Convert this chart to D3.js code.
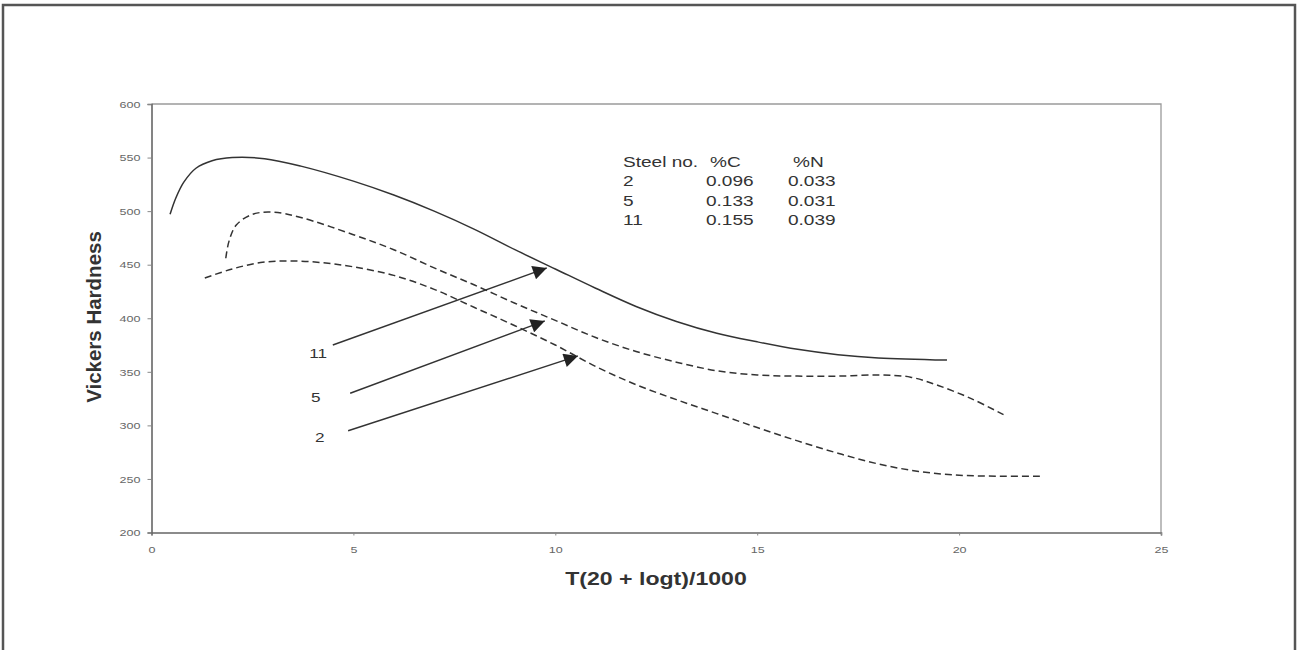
<!DOCTYPE html>
<html><head><meta charset="utf-8">
<script src="https://cdn.jsdelivr.net/npm/d3@7"></script>
<style>body{margin:0;background:#fff}svg{display:block}text{font-family:Arial,"Liberation Sans",sans-serif}</style>
</head><body><svg id="c" width="1302" height="650"></svg>
<script>
// ---- data ----
const xTicks = [0, 5, 10, 15, 20, 25];
const yTicks = [200, 250, 300, 350, 400, 450, 500, 550, 600];
const steel11X = [0.46,0.6,0.8,1.1,1.5,2.0,2.8,3.7,5.0,6.0,7.0,8.0,9.0,10.0,11.0,12.0,13.0,14.0,15.0,16.0,17.0,18.0,19.7];
const steel11Y = [497,512,527,540,547,550,549,542,528,515,500,483,464,446,428,411,397,386,378,371,366,363,361];
const steel5X = [1.84,1.92,2.1,2.5,3.0,3.7,5.0,6.0,7.0,8.0,9.0,10.0,11.0,12.0,13.0,14.0,15.0,16.0,17.0,18.0,18.8,19.5,20.3,21.1];
const steel5Y = [456,472,487,497,499,494,478,464,447,431,414,398,382,369,359,351,347,346,346,347,345,337,325,310];
const steel2X = [1.32,2.0,2.7,3.4,4.2,5.0,6.0,7.0,8.0,9.0,10.0,11.0,12.0,13.0,14.0,15.0,16.0,17.0,18.0,19.0,20.0,21.0,22.0];
const steel2Y = [437.6,446,452,453.5,452,448,440,427,410,393,375,355,338,324,311,298,285.5,274,264,257,253.5,252.5,252.5];
const arrowLabels = ["11", "5", "2"];
const arrowFrom = [[4.49,375],[4.92,330],[4.87,295]];
const arrowTo = [[9.79,447],[9.74,397.5],[10.56,364.8]];
const labelPos = [[4.13,367],[4.07,326.5],[4.17,289]];
const tableHeader = ["Steel no.", "%C", "%N"];
const tableSteel = ["2", "5", "11"];
const tableC = ["0.096", "0.133", "0.155"];
const tableN = ["0.033", "0.031", "0.039"];
const xTitle = "T(20 + logt)/1000";
const yTitle = "Vickers Hardness";

// ---- layout ----
const svg = d3.select("#c");
const L = 151.5, R = 1161, T = 104, B = 532.5;
const x = d3.scaleLinear().domain([0, 25]).range([L, R]);
const y = d3.scaleLinear().domain([200, 600]).range([B, T]);
const SX = 1.32; // horizontal stretch of the scanned text

svg.append("rect").attr("x",3).attr("y",5).attr("width",1292).attr("height",650)
  .attr("fill","#fff").attr("stroke","#555").attr("stroke-width",2.5);

// plot frame
svg.append("path").attr("d",`M${L},${T}H${R}V${B}`).attr("fill","none").attr("stroke","#9a9a9a").attr("stroke-width",1.3);

const gx = svg.append("g").attr("transform",`translate(0,${B})`)
  .call(d3.axisBottom(x).tickValues(xTicks).tickSize(3).tickFormat(d3.format("d")));
const gy = svg.append("g").attr("transform",`translate(${L},0)`)
  .call(d3.axisLeft(y).tickValues(yTicks).tickSize(4).tickFormat(d3.format("d")));
[gx, gy].forEach(g => {
  g.select(".domain").attr("stroke","#666").attr("stroke-width",1.6);
  g.selectAll(".tick line").attr("stroke","#888");
  g.selectAll("text").attr("fill","#666").attr("font-size",9.5).attr("font-family","Arial, Liberation Sans, sans-serif");
});
gx.selectAll(".tick text").attr("y",0).attr("dy","0.35em").attr("transform",`translate(0,17) scale(${SX},1)`);
gy.selectAll(".tick text").attr("text-anchor","end").attr("x",0).attr("dy","0.34em").attr("transform",`translate(-11,0) scale(${SX},1)`);

// lines
const line = d3.line().x(d=>x(d[0])).y(d=>y(d[1])).curve(d3.curveCatmullRom.alpha(0.5));
const zip = (a,b)=>a.map((v,i)=>[v,b[i]]);
svg.append("path").datum(zip(steel11X,steel11Y)).attr("d",line).attr("fill","none").attr("stroke","#333").attr("stroke-width",1.5);
svg.append("path").datum(zip(steel5X,steel5Y)).attr("d",line).attr("fill","none").attr("stroke","#333").attr("stroke-width",1.5).attr("stroke-dasharray","7,4");
svg.append("path").datum(zip(steel2X,steel2Y)).attr("d",line).attr("fill","none").attr("stroke","#333").attr("stroke-width",1.5).attr("stroke-dasharray","7,4");

// arrows
svg.append("defs").append("marker").attr("id","ah").attr("viewBox","0 0 10 10").attr("refX",10).attr("refY",5)
  .attr("markerWidth",15).attr("markerHeight",14).attr("markerUnits","userSpaceOnUse").attr("orient","auto")
  .append("path").attr("d","M0,0L10,5L0,10Z").attr("fill","#222");
arrowLabels.forEach((lab,i)=>{
  svg.append("line").attr("x1",x(arrowFrom[i][0])).attr("y1",y(arrowFrom[i][1]))
    .attr("x2",x(arrowTo[i][0])).attr("y2",y(arrowTo[i][1]))
    .attr("stroke","#333").attr("stroke-width",1.4).attr("marker-end","url(#ah)");
  svg.append("text").attr("transform",`translate(${x(labelPos[i][0])},${y(labelPos[i][1])}) scale(${SX},1)`)
    .attr("text-anchor","middle").attr("dy","0.35em").attr("font-size",13).attr("fill","#333").text(lab);
});

// table
const rowY = [162, 181, 201, 220.5];
const tbl = svg.append("g");
function tcell(tx, ty, s){
  tbl.append("text").attr("transform",`translate(${tx},${ty}) scale(1.36,1)`).attr("dy","0.35em")
    .attr("font-size",14).attr("fill","#333").text(s);
}
tcell(623, rowY[0], tableHeader[0]);
tcell(710, rowY[0], tableHeader[1]);
tcell(793, rowY[0], tableHeader[2]);
tableSteel.forEach((s,i)=>{ tcell(623, rowY[i+1], s); tcell(706, rowY[i+1], tableC[i]); tcell(788, rowY[i+1], tableN[i]); });

// titles
svg.append("text").attr("transform",`translate(656,579) scale(${SX},1)`).attr("text-anchor","middle").attr("dy","0.35em")
  .attr("font-size",17.5).attr("font-weight","bold").attr("fill","#333").text(xTitle);
svg.append("text").attr("transform",`translate(94,317) rotate(-90)`).attr("text-anchor","middle").attr("dy","0.35em")
  .attr("font-size",20.5).attr("font-weight","bold").attr("fill","#333").text(yTitle);
</script></body></html>
